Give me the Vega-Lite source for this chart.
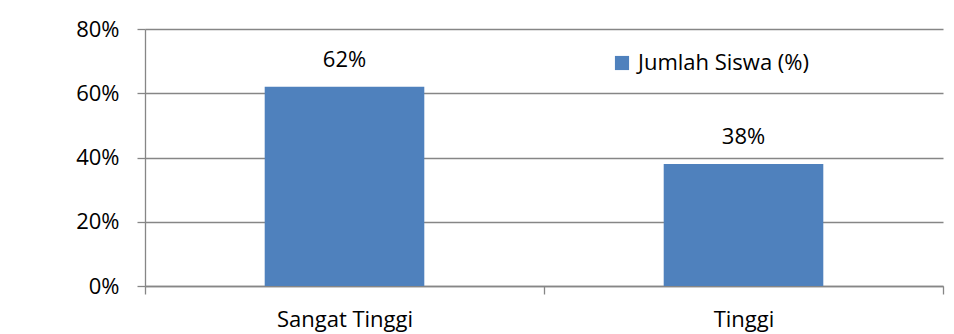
{
  "$schema": "https://vega.github.io/schema/vega-lite/v6.json",
  "width": 798,
  "height": 257,
  "autosize": {"type": "none"},
  "padding": {"left": 145, "top": 29, "right": 11, "bottom": 48},
  "background": "white",
  "config": {
    "view": {"stroke": null},
    "font": "Open Sans",
    "axis": {"labelFont": "Open Sans", "labelColor": "#000000", "labelFontSize": 22, "domainColor": "#868686", "tickColor": "#868686", "gridColor": "#868686", "domainWidth": 1.3, "tickWidth": 1.3, "gridWidth": 1.3}
  },
  "data": {
    "values": [
      {"kategori": "Sangat Tinggi", "nilai": 0.62, "seri": "Jumlah Siswa (%)"},
      {"kategori": "Tinggi", "nilai": 0.38, "seri": "Jumlah Siswa (%)"}
    ]
  },
  "encoding": {
    "x": {
      "field": "kategori", "type": "nominal", "sort": null,
      "scale": {"paddingInner": 0, "paddingOuter": 0},
      "axis": {"title": null, "labelAngle": 0, "tickSize": 8, "tickBand": "extent", "labelPadding": 15, "grid": false}
    },
    "y": {
      "field": "nilai", "type": "quantitative",
      "scale": {"domain": [0, 0.8], "nice": false},
      "axis": {"title": null, "format": ".0%", "values": [0, 0.2, 0.4, 0.6, 0.8], "tickSize": 8, "labelPadding": 18, "grid": true}
    }
  },
  "layer": [
    {
      "mark": {"type": "bar", "color": "#4F81BD", "width": {"band": 0.4}},
      "encoding": {
        "color": {
          "field": "seri", "type": "nominal",
          "scale": {"range": ["#4F81BD"]},
          "legend": {"title": null, "orient": "none", "legendX": 466, "legendY": 23, "symbolType": "square", "symbolSize": 200, "symbolStrokeWidth": 0, "labelFontSize": 22, "labelFont": "Open Sans", "labelColor": "#000000", "labelOffset": 5, "labelLimit": 400}
        }
      }
    },
    {
      "mark": {"type": "text", "dy": -27, "fontSize": 22, "font": "Open Sans", "color": "#000000"},
      "encoding": {"text": {"field": "nilai", "type": "quantitative", "format": ".0%"}}
    }
  ]
}
